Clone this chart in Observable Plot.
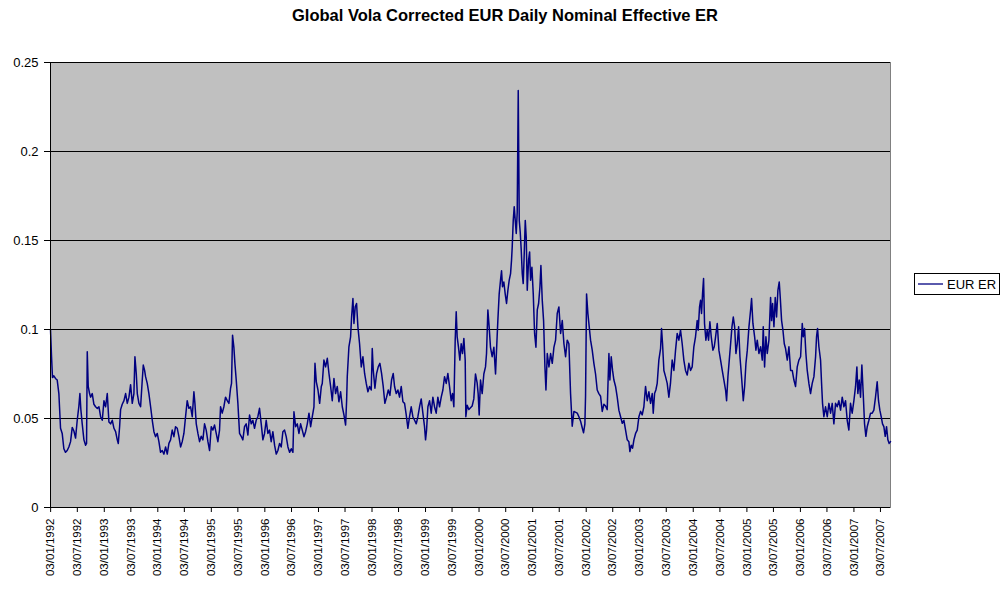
<!DOCTYPE html>
<html><head><meta charset="utf-8">
<script src="https://cdn.jsdelivr.net/npm/d3@7"></script>
<script src="https://cdn.jsdelivr.net/npm/@observablehq/plot@0.6"></script>
<style>body{margin:0;background:#fff;}</style>
</head><body><div id="chart"></div>
<script>
const chartTitle = "Global Vola Corrected EUR Daily Nominal Effective ER";
const seriesName = "EUR ER";
const yTicks = [0, 0.05, 0.1, 0.15, 0.2, 0.25];
const tickYears = [1992,1993,1994,1995,1996,1997,1998,1999,2000,2001,2002,2003,2004,2005,2006,2007];
const xStart = 1992.003, xEnd = 2007.689;

const decYear = [
1992.003,1992.022,1992.040,1992.065,1992.096,1992.128,1992.159,1992.190,1992.221,1992.252,1992.283,1992.314,1992.345,1992.377,1992.408,1992.439,1992.470,1992.501,1992.532,1992.551,1992.569,1992.594,1992.626,1992.657,1992.675,1992.688,1992.706,1992.731,1992.750,1992.781,1992.812,1992.843,1992.875,1992.906,1992.937,1992.968,1992.999,
1993.030,1993.061,1993.092,1993.124,1993.155,1993.186,1993.217,1993.248,1993.267,1993.292,1993.310,1993.341,1993.373,1993.404,1993.435,1993.466,1993.497,1993.528,1993.559,1993.578,1993.603,1993.622,1993.653,1993.684,1993.715,1993.734,1993.759,1993.777,1993.808,1993.839,1993.871,1993.902,1993.933,1993.964,1993.995,
1994.026,1994.057,1994.088,1994.120,1994.151,1994.182,1994.213,1994.244,1994.275,1994.306,1994.337,1994.369,1994.400,1994.431,1994.462,1994.493,1994.524,1994.555,1994.586,1994.618,1994.649,1994.680,1994.699,1994.724,1994.755,1994.786,1994.817,1994.848,1994.879,1994.910,1994.942,1994.973,
1995.004,1995.035,1995.066,1995.097,1995.128,1995.159,1995.178,1995.209,1995.240,1995.271,1995.303,1995.334,1995.365,1995.383,1995.402,1995.427,1995.446,1995.471,1995.502,1995.533,1995.564,1995.595,1995.626,1995.657,1995.689,1995.720,1995.751,1995.782,1995.813,1995.844,1995.875,1995.906,1995.938,1995.969,
1996.000,1996.031,1996.062,1996.093,1996.124,1996.155,1996.187,1996.218,1996.249,1996.280,1996.311,1996.342,1996.373,1996.404,1996.436,1996.467,1996.498,1996.529,1996.548,1996.579,1996.610,1996.641,1996.672,1996.703,1996.734,1996.765,1996.797,1996.828,1996.859,1996.890,1996.921,1996.940,1996.965,1996.996,
1997.027,1997.058,1997.076,1997.107,1997.138,1997.170,1997.201,1997.232,1997.263,1997.294,1997.325,1997.356,1997.387,1997.419,1997.450,1997.481,1997.512,1997.531,1997.543,1997.574,1997.605,1997.624,1997.649,1997.668,1997.692,1997.717,1997.742,1997.773,1997.805,1997.836,1997.867,1997.898,1997.929,1997.960,1997.991,
1998.010,1998.029,1998.060,1998.091,1998.122,1998.153,1998.184,1998.215,1998.246,1998.278,1998.309,1998.340,1998.371,1998.402,1998.427,1998.458,1998.489,1998.520,1998.552,1998.583,1998.614,1998.645,1998.676,1998.707,1998.738,1998.769,1998.801,1998.832,1998.863,1998.894,1998.925,1998.956,1998.987,
1999.006,1999.025,1999.050,1999.081,1999.112,1999.143,1999.174,1999.205,1999.236,1999.267,1999.299,1999.330,1999.361,1999.392,1999.423,1999.454,1999.485,1999.510,1999.535,1999.560,1999.579,1999.597,1999.622,1999.647,1999.672,1999.697,1999.722,1999.747,1999.759,1999.784,1999.815,1999.846,1999.877,1999.908,1999.939,1999.970,1999.989,
2000.008,2000.033,2000.064,2000.095,2000.126,2000.145,2000.170,2000.194,2000.219,2000.250,2000.282,2000.313,2000.331,2000.356,2000.381,2000.406,2000.425,2000.443,2000.468,2000.493,2000.518,2000.543,2000.568,2000.593,2000.611,2000.624,2000.643,2000.661,2000.680,2000.699,2000.717,2000.736,2000.755,2000.773,2000.792,2000.811,2000.829,2000.848,2000.867,2000.885,2000.904,2000.929,2000.948,2000.966,2000.991,
2001.016,2001.041,2001.066,2001.091,2001.116,2001.141,2001.159,2001.184,2001.209,2001.234,2001.253,2001.278,2001.309,2001.340,2001.371,2001.402,2001.433,2001.464,2001.495,2001.527,2001.558,2001.589,2001.620,2001.651,2001.682,2001.713,2001.744,2001.776,2001.838,2001.869,2001.900,2001.931,2001.956,2001.981,2001.993,
2002.012,2002.037,2002.062,2002.087,2002.118,2002.149,2002.180,2002.211,2002.242,2002.274,2002.305,2002.336,2002.367,2002.398,2002.430,2002.448,2002.473,2002.498,2002.523,2002.554,2002.585,2002.616,2002.648,2002.679,2002.710,2002.741,2002.772,2002.803,2002.822,2002.847,2002.872,2002.897,2002.928,2002.959,2002.990,
2003.021,2003.052,2003.083,2003.114,2003.146,2003.177,2003.208,2003.239,2003.258,2003.283,2003.307,2003.332,2003.363,2003.395,2003.413,2003.432,2003.457,2003.488,2003.519,2003.550,2003.580,2003.612,2003.644,2003.675,2003.706,2003.737,2003.768,2003.799,2003.830,2003.861,2003.893,2003.924,2003.955,2003.986,
2004.017,2004.048,2004.079,2004.098,2004.123,2004.142,2004.160,2004.179,2004.198,2004.216,2004.241,2004.266,2004.291,2004.316,2004.341,2004.372,2004.397,2004.422,2004.453,2004.484,2004.515,2004.546,2004.577,2004.608,2004.627,2004.652,2004.677,2004.702,2004.727,2004.752,2004.777,2004.801,2004.826,2004.851,2004.876,2004.901,2004.938,2004.963,2004.988,
2005.013,2005.044,2005.075,2005.093,2005.118,2005.150,2005.174,2005.199,2005.230,2005.262,2005.293,2005.311,2005.336,2005.361,2005.386,2005.417,2005.448,2005.467,2005.486,2005.511,2005.535,2005.560,2005.585,2005.610,2005.629,2005.654,2005.679,2005.704,2005.728,2005.760,2005.791,2005.822,2005.853,2005.884,2005.915,2005.946,2005.977,
2006.009,2006.040,2006.058,2006.083,2006.108,2006.133,2006.164,2006.195,2006.226,2006.258,2006.289,2006.307,2006.326,2006.351,2006.382,2006.401,2006.419,2006.444,2006.475,2006.507,2006.538,2006.569,2006.600,2006.631,2006.662,2006.693,2006.724,2006.756,2006.787,2006.818,2006.849,2006.880,2006.911,2006.942,2006.973,
2007.005,2007.036,2007.061,2007.079,2007.104,2007.129,2007.154,2007.179,2007.204,2007.229,2007.254,2007.285,2007.316,2007.347,2007.378,2007.409,2007.440,2007.465,2007.490,2007.515,2007.540,2007.565,2007.590,2007.615,2007.640,2007.664,2007.689
];

const eurEr = [
0.100,0.085,0.073,0.074,0.0725,0.0716,0.064,0.0445,0.0416,0.033,0.031,0.032,0.034,0.037,0.045,0.043,0.039,0.049,0.057,0.064,0.055,0.047,0.038,0.035,0.036,0.0875,0.068,0.064,0.062,0.064,0.058,0.0566,0.0557,0.0566,0.051,0.049,0.060,
0.0566,0.064,0.048,0.047,0.049,0.0445,0.0426,0.038,0.036,0.0455,0.055,0.058,0.060,0.064,0.0585,0.062,0.069,0.0585,0.064,0.0847,0.0753,0.064,0.0585,0.0566,0.0716,0.080,0.077,0.0735,0.0697,0.064,0.0566,0.049,0.0426,0.0398,0.0416,
0.037,0.031,0.032,0.030,0.034,0.030,0.036,0.038,0.0435,0.0398,0.0454,0.0445,0.0398,0.034,0.037,0.0416,0.051,0.060,0.0557,0.0566,0.051,0.065,0.0585,0.047,0.0416,0.037,0.040,0.038,0.047,0.0435,0.037,0.032,
0.0454,0.0435,0.0463,0.0416,0.037,0.0435,0.0566,0.053,0.0566,0.062,0.060,0.0585,0.067,0.0697,0.0968,0.090,0.081,0.0716,0.0585,0.0416,0.040,0.038,0.0454,0.047,0.0407,0.052,0.047,0.049,0.0445,0.049,0.051,0.0557,0.047,0.038,
0.0416,0.049,0.0416,0.0435,0.037,0.0426,0.035,0.030,0.032,0.036,0.034,0.0426,0.0435,0.0398,0.034,0.031,0.033,0.031,0.0538,0.0454,0.047,0.0416,0.047,0.0435,0.0398,0.0426,0.047,0.053,0.0454,0.051,0.0566,0.081,0.0706,0.066,
0.0585,0.068,0.0697,0.0828,0.079,0.0838,0.0753,0.068,0.060,0.0725,0.064,0.068,0.0594,0.065,0.0566,0.052,0.0463,0.060,0.0735,0.0903,0.0959,0.107,0.1174,0.1034,0.1127,0.1146,0.1015,0.092,0.079,0.0847,0.0753,0.0697,0.065,0.068,0.066,
0.0893,0.077,0.067,0.0753,0.079,0.081,0.0753,0.068,0.0585,0.062,0.066,0.063,0.0716,0.0753,0.068,0.064,0.066,0.062,0.068,0.0594,0.0585,0.052,0.0445,0.051,0.0566,0.051,0.049,0.047,0.051,0.0566,0.061,0.053,0.0454,
0.038,0.0435,0.0566,0.060,0.053,0.062,0.0566,0.053,0.062,0.0566,0.062,0.066,0.0735,0.0697,0.0753,0.068,0.060,0.064,0.0566,0.094,0.110,0.0959,0.090,0.0828,0.092,0.0865,0.095,0.0828,0.051,0.0575,0.055,0.056,0.057,0.061,0.075,0.070,0.064,
0.052,0.0716,0.064,0.075,0.079,0.0865,0.111,0.1015,0.090,0.0847,0.090,0.075,0.088,0.105,0.120,0.1277,0.133,0.124,0.1267,0.120,0.1146,0.122,0.1277,0.1314,0.139,0.1464,0.1613,0.169,0.1613,0.154,0.166,0.2343,0.1613,0.1548,0.1445,0.1314,0.1258,0.1427,0.1613,0.152,0.122,0.139,0.1436,0.1277,0.135,
0.120,0.0978,0.090,0.111,0.1146,0.124,0.136,0.1165,0.105,0.079,0.066,0.0865,0.079,0.0865,0.081,0.090,0.094,0.109,0.1127,0.0978,0.105,0.092,0.0847,0.094,0.092,0.064,0.0457,0.054,0.053,0.051,0.0485,0.0448,0.042,0.047,0.0625,
0.120,0.109,0.1015,0.094,0.0884,0.081,0.075,0.066,0.064,0.0625,0.054,0.058,0.057,0.055,0.0865,0.0716,0.0847,0.077,0.0716,0.068,0.062,0.0547,0.051,0.0473,0.049,0.0435,0.038,0.037,0.0314,0.035,0.0333,0.038,0.0416,0.0435,0.051,
0.054,0.052,0.0566,0.068,0.060,0.065,0.0585,0.064,0.053,0.064,0.066,0.0697,0.0828,0.0893,0.1006,0.092,0.077,0.0735,0.0697,0.062,0.0697,0.0828,0.077,0.0884,0.0978,0.094,0.0996,0.092,0.0828,0.077,0.0744,0.081,0.077,0.079,
0.0903,0.0959,0.105,0.0996,0.1127,0.1164,0.109,0.120,0.1286,0.1034,0.094,0.0996,0.094,0.1043,0.0959,0.0884,0.0903,0.0959,0.1034,0.0884,0.0828,0.077,0.0716,0.066,0.060,0.0735,0.0828,0.092,0.1015,0.107,0.1015,0.0865,0.092,0.1015,0.0847,0.0753,0.060,0.068,0.081,
0.0884,0.1015,0.111,0.1174,0.1034,0.0959,0.0884,0.094,0.0865,0.0903,0.0828,0.1015,0.079,0.0959,0.0865,0.094,0.118,0.105,0.1146,0.1015,0.118,0.107,0.122,0.1267,0.118,0.105,0.0996,0.092,0.0893,0.0828,0.0903,0.077,0.077,0.0716,0.068,0.079,0.0828,
0.0847,0.1034,0.0959,0.1006,0.0865,0.077,0.0697,0.064,0.0697,0.0735,0.0847,0.0959,0.1006,0.0903,0.0828,0.0697,0.0585,0.051,0.0566,0.051,0.0585,0.053,0.0585,0.047,0.0585,0.0566,0.060,0.0547,0.062,0.0566,0.060,0.049,0.0435,0.0585,0.053,
0.060,0.068,0.079,0.064,0.0716,0.062,0.080,0.064,0.047,0.040,0.0454,0.049,0.053,0.053,0.0547,0.062,0.0706,0.060,0.0547,0.051,0.047,0.0454,0.040,0.0454,0.038,0.036,0.037
];

function toDate(y) {
  const yi = Math.floor(y);
  const s = Date.UTC(yi, 0, 1), e = Date.UTC(yi + 1, 0, 1);
  return new Date(s + (y - yi) * (e - s));
}

const data = decYear.map((y, i) => ({date: toDate(y), value: eurEr[i]}));
const tickDates = [];
for (const y of tickYears) {
  tickDates.push(new Date(Date.UTC(y, 0, 3)));
  tickDates.push(new Date(Date.UTC(y, 6, 3)));
}
const xDomain = [toDate(xStart), toDate(xEnd)];
const font = "'Liberation Sans', Arial, sans-serif";

const chart = Plot.plot({
  width: 1006, height: 592,
  marginLeft: 50, marginRight: 116, marginTop: 62, marginBottom: 85,
  style: {fontFamily: font, fontSize: "12px", background: "#fff", color: "#000", overflow: "visible"},
  x: {type: "utc", domain: xDomain},
  y: {domain: [0, 0.25]},
  marks: [
    Plot.frame({fill: "#c0c0c0", stroke: "#808080"}),
    Plot.ruleY(yTicks.filter(d => d > 0), {stroke: "#000", strokeWidth: 1}),
    Plot.line(data, {x: "date", y: "value", stroke: "#000080", strokeWidth: 1.5}),
    Plot.ruleY([0], {stroke: "#000"}),
    Plot.ruleX([xDomain[0]], {stroke: "#000"}),
    Plot.axisY({ticks: yTicks, tickFormat: d => String(d), tickSize: 6, tickPadding: 6, label: null, fontSize: 13}),
    Plot.axisX({ticks: tickDates, tickFormat: d3.utcFormat("%d/%m/%Y"), tickRotate: -90, tickSize: 5, tickPadding: 6, label: null, fontSize: 11.5})
  ]
});

const svg = d3.select(chart);
svg.append("text").attr("x", 505).attr("y", 21).attr("text-anchor", "middle")
  .attr("font-family", font).attr("font-weight", "bold").attr("font-size", 16.5).attr("fill", "#000")
  .text(chartTitle);
const lg = svg.append("g");
lg.append("rect").attr("x", 914.5).attr("y", 273.5).attr("width", 85).attr("height", 21)
  .attr("fill", "#fff").attr("stroke", "#000");
lg.append("line").attr("x1", 918).attr("x2", 943).attr("y1", 284).attr("y2", 284)
  .attr("stroke", "#000080").attr("stroke-width", 1.3);
lg.append("text").attr("x", 947).attr("y", 288.5).attr("text-anchor", "start")
  .attr("font-family", font).attr("font-size", 13)
  .attr("fill", "#000").text(seriesName);

document.getElementById("chart").appendChild(chart);
</script>
</body></html>
